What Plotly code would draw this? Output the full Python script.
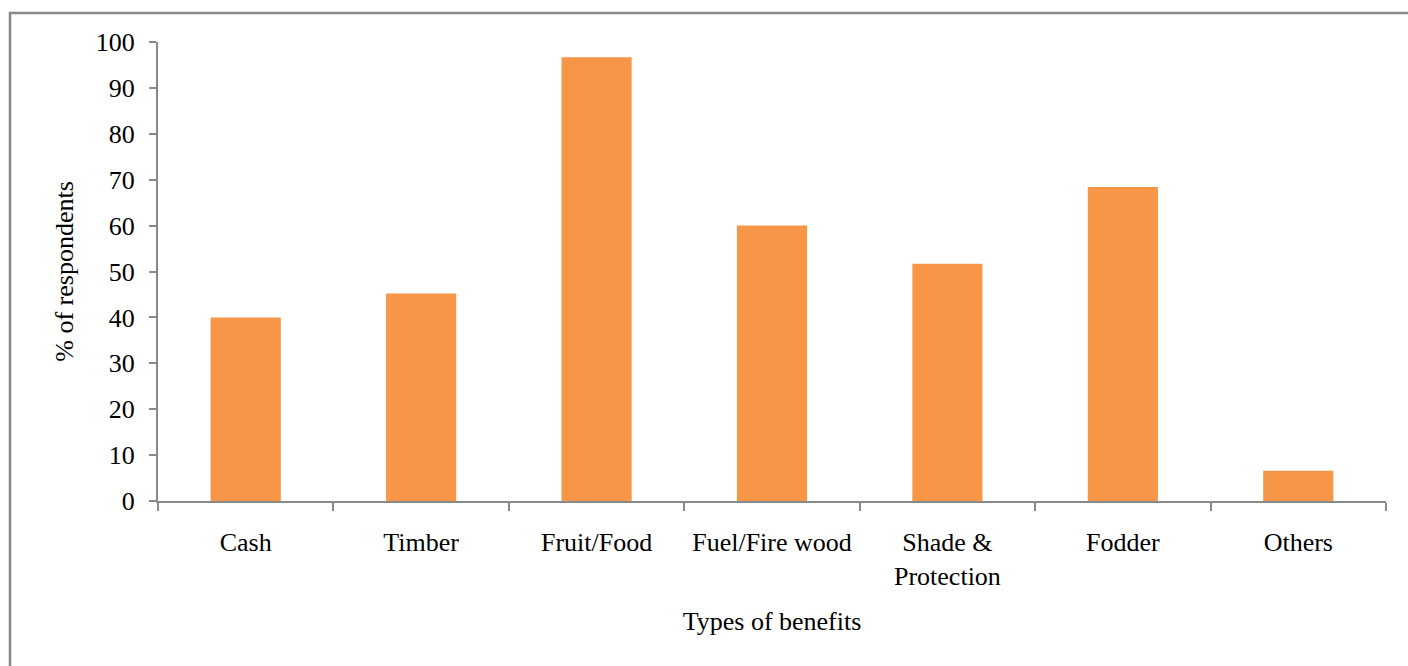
import plotly.graph_objects as go

# Benefit categories and share of respondents (%)
categories = ["Cash", "Timber", "Fruit/Food", "Fuel/Fire wood",
              "Shade &<br>Protection", "Fodder", "Others"]
respondents_pct = [40.0, 45.2, 96.7, 60.0, 51.7, 68.4, 6.6]
y_ticks = [0, 10, 20, 30, 40, 50, 60, 70, 80, 90, 100]

W, H = 1408, 666
L, R, T, B = 158, 22, 42, 164.5
pw, ph = W - L - R, H - T - B

font = dict(family="Liberation Serif, Times New Roman, serif", size=26, color="#000000")
axis_grey = "#898989"

fig = go.Figure(go.Bar(
    x=categories,
    y=respondents_pct,
    marker=dict(color="#F79646", line=dict(width=0)),
    width=0.4,
))

# Outer frame around the chart area (runs off the right and bottom edges)
def px_to_paper_x(px):
    return (px - L) / pw

def px_to_paper_y(py):
    return (H - B - py) / ph

fig.add_shape(type="rect", xref="paper", yref="paper",
              x0=px_to_paper_x(10), x1=px_to_paper_x(1430),
              y0=px_to_paper_y(700), y1=px_to_paper_y(13),
              line=dict(color="#888888", width=2.5), fillcolor="rgba(0,0,0,0)",
              layer="below")

fig.update_layout(
    width=W, height=H,
    margin=dict(l=L, r=R, t=T, b=B, pad=0),
    paper_bgcolor="white", plot_bgcolor="white",
    font=font,
    showlegend=False,
    xaxis=dict(
        title=dict(text="Types of benefits", font=font, standoff=22),
        showline=True, linecolor=axis_grey, linewidth=2,
        ticks="outside", ticklen=8, tickcolor=axis_grey, tickwidth=2,
        tickson="boundaries", showgrid=False, tickangle=0,
        tickfont=font, ticklabelstandoff=17,
    ),
    yaxis=dict(
        title=dict(text="% of respondents", font=font, standoff=15),
        range=[0, 100], tickvals=y_ticks,
        showline=True, linecolor=axis_grey, linewidth=2,
        ticks="outside", ticklen=7, tickcolor=axis_grey, tickwidth=2,
        showgrid=False, zeroline=False, tickfont=font,
        ticklabelstandoff=9,
    ),
)

fig.write_html("out.html")
